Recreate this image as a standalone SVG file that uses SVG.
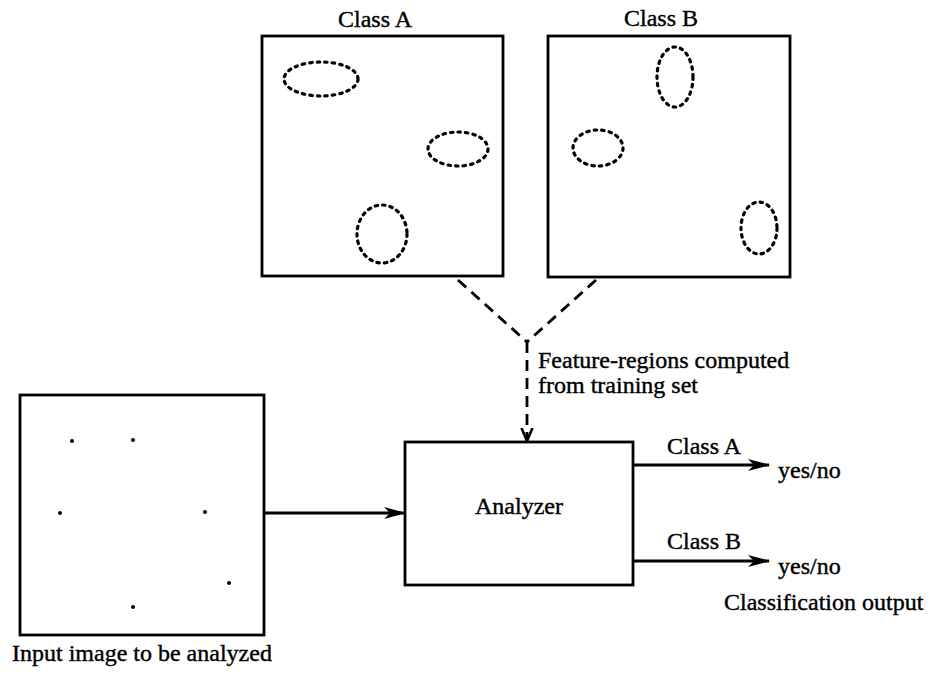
<svg xmlns="http://www.w3.org/2000/svg" width="934" height="688" viewBox="0 0 934 688">
<defs>
<style>
text{font-family:"Liberation Serif","Times New Roman",serif;font-size:24px;fill:#000;stroke:#000;stroke-width:0.4}
.box{fill:#fff;stroke:#000;stroke-width:2.8}
.reg{fill:none;stroke:#000;stroke-width:3.2;stroke-dasharray:2.5 5;stroke-linecap:round}
.dash{fill:none;stroke:#000;stroke-width:2.8;stroke-dasharray:11 7}
.line{fill:none;stroke:#000;stroke-width:2.8}
.dot{fill:#000}
</style>
<marker id="ah" viewBox="0 0 22 12" refX="21" refY="6" markerWidth="22" markerHeight="12" markerUnits="userSpaceOnUse" orient="auto">
<path d="M0,0 L22,6 L0,12 L6,6 Z" fill="#000"/>
</marker>
<marker id="ah2" viewBox="0 0 14 14" refX="13" refY="7" markerWidth="14" markerHeight="14" markerUnits="userSpaceOnUse" orient="auto">
<path d="M0,1.5 L13,7 L0,12.5" fill="none" stroke="#000" stroke-width="2.6"/>
</marker>
</defs>
<rect width="934" height="688" fill="#fff"/>
<g id="classA">
<text x="375" y="27" text-anchor="middle">Class A</text>
<rect class="box" x="262" y="36" width="241" height="240"/>
<ellipse class="reg" cx="321" cy="79" rx="37" ry="17"/>
<ellipse class="reg" cx="458" cy="149" rx="30" ry="17"/>
<ellipse class="reg" cx="382" cy="234" rx="25" ry="29"/>
</g>
<g id="classB">
<text x="661" y="26" text-anchor="middle">Class B</text>
<rect class="box" x="548" y="36" width="242" height="241"/>
<ellipse class="reg" cx="675" cy="77" rx="18" ry="30"/>
<ellipse class="reg" cx="598" cy="148" rx="25" ry="18"/>
<ellipse class="reg" cx="759" cy="228" rx="18" ry="26"/>
</g>
<g id="input">
<rect class="box" x="20" y="395" width="244" height="240"/>
<circle class="dot" cx="72" cy="441" r="2"/>
<circle class="dot" cx="133" cy="440" r="2"/>
<circle class="dot" cx="60" cy="513" r="2"/>
<circle class="dot" cx="205" cy="512" r="2"/>
<circle class="dot" cx="229" cy="583" r="2"/>
<circle class="dot" cx="133" cy="607" r="2"/>
<text x="12" y="661">Input image to be analyzed</text>
</g>
<g id="analyzer">
<rect class="box" x="405" y="442" width="228" height="143"/>
<text x="519" y="514" text-anchor="middle">Analyzer</text>
</g>
<g id="outputs">
<text x="667" y="454">Class A</text>
<text x="778" y="478">yes/no</text>
<text x="667" y="549">Class B</text>
<text x="778" y="574">yes/no</text>
<text x="724" y="610">Classification output</text>
</g>
<g id="feature-label">
<text x="538" y="368">Feature-regions computed</text>
<text x="538" y="393">from training set</text>
</g>
<g id="connectors">
<path class="dash" d="M458,280 L527,342"/>
<path class="dash" d="M596,280 L527,342"/>
<path class="dash" d="M527,342 L527,441" marker-end="url(#ah2)"/>
<path class="line" d="M264,513 L405,513" marker-end="url(#ah)"/>
<path class="line" d="M633,465 L769,465" marker-end="url(#ah)"/>
<path class="line" d="M633,561 L769,561" marker-end="url(#ah)"/>
</g>
</svg>
